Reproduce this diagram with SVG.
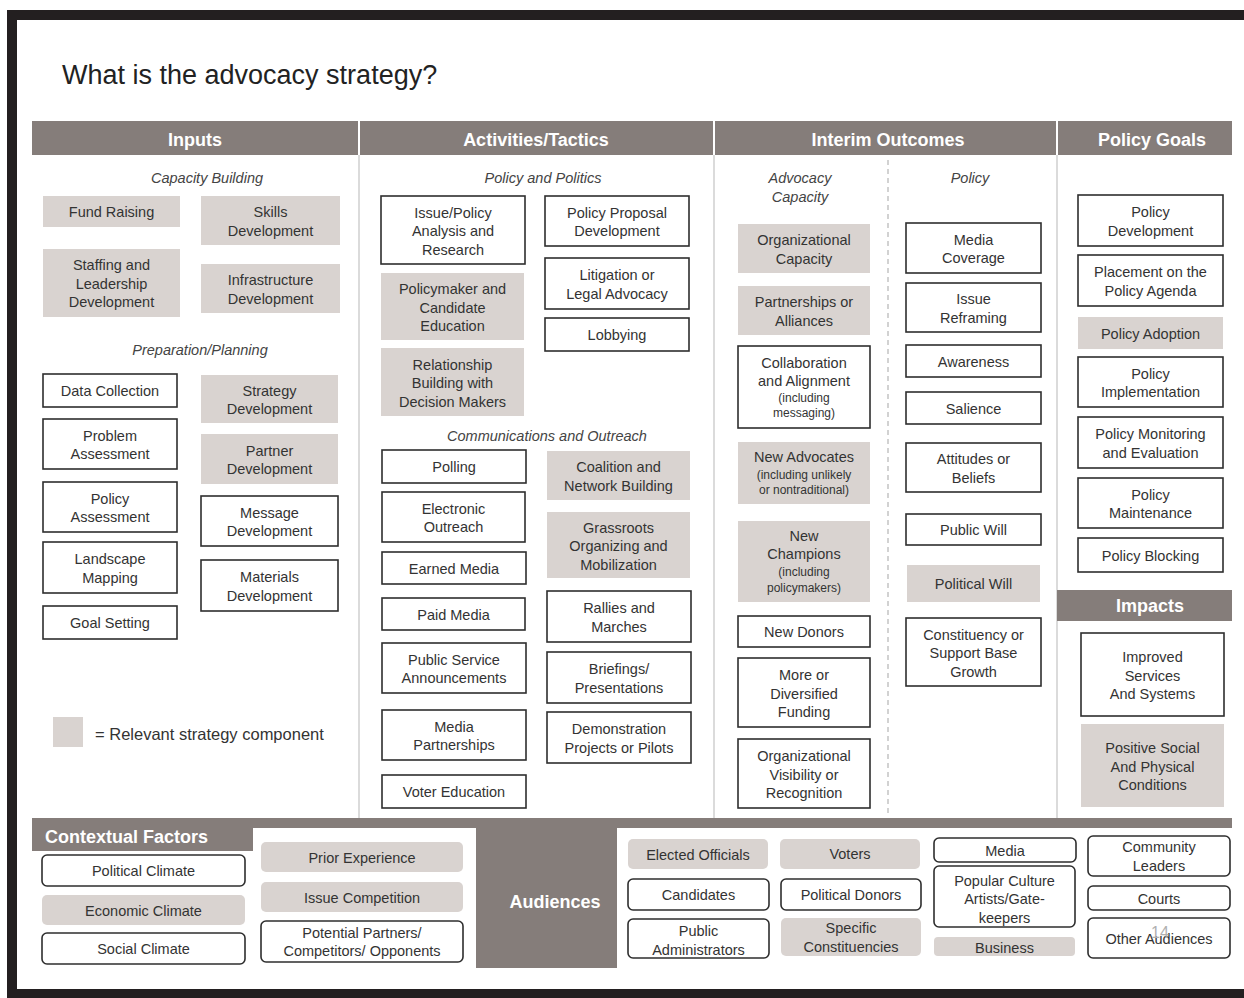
<svg xmlns="http://www.w3.org/2000/svg" width="1244" height="998" viewBox="0 0 1244 998">
  <style>
    .frame { fill: #231f20; }
    .hdr { fill: #857d7a; }
    .hdr-t { font-family: "Liberation Sans", Arial, sans-serif; font-weight: bold; font-size: 18px; fill: #ffffff; text-anchor: middle; }
    .sub { font-family: "Liberation Sans", Arial, sans-serif; font-style: italic; font-size: 14.5px; fill: #444444; text-anchor: middle; }
    .box { fill: #ffffff; stroke: #2e2e2e; stroke-width: 1.6; }
    .rel { fill: #d9d3d0; stroke: none; }
    .t { font-family: "Liberation Sans", Arial, sans-serif; font-size: 14.5px; fill: #333333; text-anchor: middle; }
    .s { font-size: 12px; }
    .div { stroke: #cfcfcf; stroke-width: 1.5; fill: none; }
    .dash { stroke: #d2d2d2; stroke-width: 2; stroke-dasharray: 5 4; fill: none; }
  </style>

  <rect x="0" y="0" width="1244" height="998" fill="#ffffff"/>

  <!-- page frame -->
  <g id="frame">
    <rect class="frame" x="7" y="10" width="1237" height="10"/>
    <rect class="frame" x="7" y="10" width="10" height="988"/>
    <rect class="frame" x="7" y="989" width="1237" height="9"/>
  </g>

  <text x="62" y="84" font-family="Liberation Sans, Arial, sans-serif" font-size="27" fill="#222222">What is the advocacy strategy?</text>

  <!-- column headers -->
  <g id="headers">
    <rect class="hdr" x="32" y="121" width="326" height="34"/>
    <rect class="hdr" x="360" y="121" width="353" height="34"/>
    <rect class="hdr" x="715" y="121" width="341" height="34"/>
    <rect class="hdr" x="1058" y="121" width="174" height="34"/>
    <text class="hdr-t" x="195" y="146">Inputs</text>
    <text class="hdr-t" x="536" y="146">Activities/Tactics</text>
    <text class="hdr-t" x="888" y="146">Interim Outcomes</text>
    <text class="hdr-t" x="1152" y="146">Policy Goals</text>
  </g>

  <!-- column dividers -->
  <g id="dividers">
    <line class="div" x1="359" y1="155" x2="359" y2="818"/>
    <line class="div" x1="714" y1="155" x2="714" y2="818"/>
    <line class="div" x1="1057" y1="155" x2="1057" y2="818"/>
    <line class="dash" x1="888" y1="160" x2="888" y2="815"/>
  </g>

  <!-- section labels -->
  <g id="section-labels">
    <text class="sub" x="207" y="183">Capacity Building</text>
    <text class="sub" x="200" y="355">Preparation/Planning</text>
    <text class="sub" x="543" y="183">Policy and Politics</text>
    <text class="sub" x="547" y="441">Communications and Outreach</text>
    <text class="sub" x="800" y="183">Advocacy</text>
    <text class="sub" x="800" y="202">Capacity</text>
    <text class="sub" x="970" y="183">Policy</text>
  </g>

  <!-- Inputs -->
  <g id="fund-raising"><rect class="rel" x="43" y="196" width="137" height="31"/><text class="t" x="111.5" y="217">Fund Raising</text></g>
  <g id="skills-development"><rect class="rel" x="201" y="196" width="139" height="49"/><text class="t"><tspan x="270.5" y="217">Skills</tspan><tspan x="270.5" y="235.5">Development</tspan></text></g>
  <g id="staffing-leadership"><rect class="rel" x="43" y="249" width="137" height="68"/><text class="t"><tspan x="111.5" y="270">Staffing and</tspan><tspan x="111.5" y="288.5">Leadership</tspan><tspan x="111.5" y="307">Development</tspan></text></g>
  <g id="infrastructure-development"><rect class="rel" x="201" y="264" width="139" height="49"/><text class="t"><tspan x="270.5" y="285">Infrastructure</tspan><tspan x="270.5" y="303.5">Development</tspan></text></g>
  <g id="data-collection"><rect class="box" x="43" y="374" width="134" height="33"/><text class="t" x="110" y="396">Data Collection</text></g>
  <g id="strategy-development"><rect class="rel" x="201" y="375" width="137" height="48"/><text class="t"><tspan x="269.5" y="395.5">Strategy</tspan><tspan x="269.5" y="414">Development</tspan></text></g>
  <g id="problem-assessment"><rect class="box" x="43" y="419" width="134" height="50"/><text class="t"><tspan x="110" y="440.5">Problem</tspan><tspan x="110" y="459">Assessment</tspan></text></g>
  <g id="partner-development"><rect class="rel" x="201" y="434" width="137" height="50"/><text class="t"><tspan x="269.5" y="455.5">Partner</tspan><tspan x="269.5" y="474">Development</tspan></text></g>
  <g id="policy-assessment"><rect class="box" x="43" y="482" width="134" height="50"/><text class="t"><tspan x="110" y="503.5">Policy</tspan><tspan x="110" y="522">Assessment</tspan></text></g>
  <g id="message-development"><rect class="box" x="201" y="496" width="137" height="50"/><text class="t"><tspan x="269.5" y="517.5">Message</tspan><tspan x="269.5" y="536">Development</tspan></text></g>
  <g id="landscape-mapping"><rect class="box" x="43" y="542" width="134" height="51"/><text class="t"><tspan x="110" y="564">Landscape</tspan><tspan x="110" y="582.5">Mapping</tspan></text></g>
  <g id="materials-development"><rect class="box" x="201" y="560" width="137" height="51"/><text class="t"><tspan x="269.5" y="582">Materials</tspan><tspan x="269.5" y="600.5">Development</tspan></text></g>
  <g id="goal-setting"><rect class="box" x="43" y="606" width="134" height="33"/><text class="t" x="110" y="628">Goal Setting</text></g>

  <g id="legend">
    <rect class="rel" x="53" y="717" width="30" height="30"/>
    <text x="95" y="740" font-family="Liberation Sans, Arial, sans-serif" font-size="16.5" fill="#333333">= Relevant strategy component</text>
  </g>

  <!-- Activities / Tactics -->
  <g id="issue-policy-analysis"><rect class="box" x="381" y="196" width="144" height="68"/><text class="t"><tspan x="453" y="217.5">Issue/Policy</tspan><tspan x="453" y="236">Analysis and</tspan><tspan x="453" y="254.5">Research</tspan></text></g>
  <g id="policy-proposal"><rect class="box" x="545" y="196" width="144" height="50"/><text class="t"><tspan x="617" y="217.5">Policy Proposal</tspan><tspan x="617" y="236">Development</tspan></text></g>
  <g id="policymaker-education"><rect class="rel" x="381" y="273" width="143" height="67"/><text class="t"><tspan x="452.5" y="294">Policymaker and</tspan><tspan x="452.5" y="312.5">Candidate</tspan><tspan x="452.5" y="331">Education</tspan></text></g>
  <g id="litigation"><rect class="box" x="545" y="258" width="144" height="51"/><text class="t"><tspan x="617" y="280">Litigation or</tspan><tspan x="617" y="298.5">Legal Advocacy</tspan></text></g>
  <g id="lobbying"><rect class="box" x="545" y="318" width="144" height="33"/><text class="t" x="617" y="340">Lobbying</text></g>
  <g id="relationship-building"><rect class="rel" x="381" y="348" width="143" height="68"/><text class="t"><tspan x="452.5" y="369.5">Relationship</tspan><tspan x="452.5" y="388">Building with</tspan><tspan x="452.5" y="406.5">Decision Makers</tspan></text></g>
  <g id="polling"><rect class="box" x="382" y="450" width="144" height="33"/><text class="t" x="454" y="472">Polling</text></g>
  <g id="coalition-building"><rect class="rel" x="547" y="451" width="143" height="49"/><text class="t"><tspan x="618.5" y="472">Coalition and</tspan><tspan x="618.5" y="490.5">Network Building</tspan></text></g>
  <g id="electronic-outreach"><rect class="box" x="382" y="492" width="143" height="50"/><text class="t"><tspan x="453.5" y="513.5">Electronic</tspan><tspan x="453.5" y="532">Outreach</tspan></text></g>
  <g id="grassroots-organizing"><rect class="rel" x="547" y="512" width="143" height="66"/><text class="t"><tspan x="618.5" y="532.5">Grassroots</tspan><tspan x="618.5" y="551">Organizing and</tspan><tspan x="618.5" y="569.5">Mobilization</tspan></text></g>
  <g id="earned-media"><rect class="box" x="382" y="552" width="144" height="32"/><text class="t" x="454" y="573.5">Earned Media</text></g>
  <g id="rallies-marches"><rect class="box" x="547" y="591" width="144" height="51"/><text class="t"><tspan x="619" y="613">Rallies and</tspan><tspan x="619" y="631.5">Marches</tspan></text></g>
  <g id="paid-media"><rect class="box" x="382" y="598" width="143" height="32"/><text class="t" x="453.5" y="619.5">Paid Media</text></g>
  <g id="psa"><rect class="box" x="382" y="643" width="144" height="50"/><text class="t"><tspan x="454" y="664.5">Public Service</tspan><tspan x="454" y="683">Announcements</tspan></text></g>
  <g id="briefings"><rect class="box" x="547" y="652" width="144" height="51"/><text class="t"><tspan x="619" y="674">Briefings/</tspan><tspan x="619" y="692.5">Presentations</tspan></text></g>
  <g id="media-partnerships"><rect class="box" x="382" y="710" width="144" height="50"/><text class="t"><tspan x="454" y="731.5">Media</tspan><tspan x="454" y="750">Partnerships</tspan></text></g>
  <g id="demonstration-projects"><rect class="box" x="547" y="712" width="144" height="51"/><text class="t"><tspan x="619" y="734">Demonstration</tspan><tspan x="619" y="752.5">Projects or Pilots</tspan></text></g>
  <g id="voter-education"><rect class="box" x="382" y="775" width="144" height="33"/><text class="t" x="454" y="797">Voter Education</text></g>

  <!-- Interim Outcomes: advocacy capacity -->
  <g id="organizational-capacity"><rect class="rel" x="738" y="224" width="132" height="49"/><text class="t"><tspan x="804" y="245">Organizational</tspan><tspan x="804" y="263.5">Capacity</tspan></text></g>
  <g id="partnerships-alliances"><rect class="rel" x="738" y="286" width="132" height="49"/><text class="t"><tspan x="804" y="307">Partnerships or</tspan><tspan x="804" y="325.5">Alliances</tspan></text></g>
  <g id="collaboration-alignment"><rect class="box" x="738" y="346" width="132" height="82"/><text class="t"><tspan x="804" y="368">Collaboration</tspan><tspan x="804" y="386">and Alignment</tspan><tspan class="s" x="804" y="402">(including</tspan><tspan class="s" x="804" y="417">messaging)</tspan></text></g>
  <g id="new-advocates"><rect class="rel" x="738" y="442" width="132" height="62"/><text class="t"><tspan x="804" y="462">New Advocates</tspan><tspan class="s" x="804" y="479">(including unlikely</tspan><tspan class="s" x="804" y="494">or nontraditional)</tspan></text></g>
  <g id="new-champions"><rect class="rel" x="738" y="521" width="132" height="81"/><text class="t"><tspan x="804" y="541">New</tspan><tspan x="804" y="559">Champions</tspan><tspan class="s" x="804" y="576">(including</tspan><tspan class="s" x="804" y="592">policymakers)</tspan></text></g>
  <g id="new-donors"><rect class="box" x="738" y="616" width="132" height="31"/><text class="t" x="804" y="637">New Donors</text></g>
  <g id="diversified-funding"><rect class="box" x="738" y="658" width="132" height="69"/><text class="t"><tspan x="804" y="680">More or</tspan><tspan x="804" y="698.5">Diversified</tspan><tspan x="804" y="717">Funding</tspan></text></g>
  <g id="organizational-visibility"><rect class="box" x="738" y="739" width="132" height="69"/><text class="t"><tspan x="804" y="761">Organizational</tspan><tspan x="804" y="779.5">Visibility or</tspan><tspan x="804" y="798">Recognition</tspan></text></g>

  <!-- Interim Outcomes: policy -->
  <g id="media-coverage"><rect class="box" x="906" y="223" width="135" height="50"/><text class="t"><tspan x="973.5" y="244.5">Media</tspan><tspan x="973.5" y="263">Coverage</tspan></text></g>
  <g id="issue-reframing"><rect class="box" x="906" y="283" width="135" height="49"/><text class="t"><tspan x="973.5" y="304">Issue</tspan><tspan x="973.5" y="322.5">Reframing</tspan></text></g>
  <g id="awareness"><rect class="box" x="906" y="345" width="135" height="32"/><text class="t" x="973.5" y="366.5">Awareness</text></g>
  <g id="salience"><rect class="box" x="906" y="392" width="135" height="32"/><text class="t" x="973.5" y="413.5">Salience</text></g>
  <g id="attitudes-beliefs"><rect class="box" x="906" y="443" width="135" height="49"/><text class="t"><tspan x="973.5" y="464">Attitudes or</tspan><tspan x="973.5" y="482.5">Beliefs</tspan></text></g>
  <g id="public-will"><rect class="box" x="906" y="514" width="135" height="31"/><text class="t" x="973.5" y="535">Public Will</text></g>
  <g id="political-will"><rect class="rel" x="907" y="565" width="133" height="37"/><text class="t" x="973.5" y="589">Political Will</text></g>
  <g id="constituency-growth"><rect class="box" x="906" y="618" width="135" height="68"/><text class="t"><tspan x="973.5" y="639.5">Constituency or</tspan><tspan x="973.5" y="658">Support Base</tspan><tspan x="973.5" y="676.5">Growth</tspan></text></g>

  <!-- Policy Goals -->
  <g id="policy-development"><rect class="box" x="1078" y="195" width="145" height="51"/><text class="t"><tspan x="1150.5" y="217">Policy</tspan><tspan x="1150.5" y="235.5">Development</tspan></text></g>
  <g id="policy-agenda"><rect class="box" x="1078" y="255" width="145" height="51"/><text class="t"><tspan x="1150.5" y="277">Placement on the</tspan><tspan x="1150.5" y="295.5">Policy Agenda</tspan></text></g>
  <g id="policy-adoption"><rect class="rel" x="1078" y="317" width="145" height="32"/><text class="t" x="1150.5" y="338.5">Policy Adoption</text></g>
  <g id="policy-implementation"><rect class="box" x="1078" y="357" width="145" height="50"/><text class="t"><tspan x="1150.5" y="378.5">Policy</tspan><tspan x="1150.5" y="397">Implementation</tspan></text></g>
  <g id="policy-monitoring"><rect class="box" x="1078" y="417" width="145" height="51"/><text class="t"><tspan x="1150.5" y="439">Policy Monitoring</tspan><tspan x="1150.5" y="457.5">and Evaluation</tspan></text></g>
  <g id="policy-maintenance"><rect class="box" x="1078" y="478" width="145" height="50"/><text class="t"><tspan x="1150.5" y="499.5">Policy</tspan><tspan x="1150.5" y="518">Maintenance</tspan></text></g>
  <g id="policy-blocking"><rect class="box" x="1078" y="538" width="145" height="34"/><text class="t" x="1150.5" y="560.5">Policy Blocking</text></g>

  <!-- Impacts -->
  <g id="impacts-header">
    <rect class="hdr" x="1057" y="590" width="175" height="31"/>
    <text class="hdr-t" x="1150" y="612">Impacts</text>
  </g>
  <g id="improved-services"><rect class="box" x="1081" y="633" width="143" height="83"/><text class="t"><tspan x="1152.5" y="662">Improved</tspan><tspan x="1152.5" y="680.5">Services</tspan><tspan x="1152.5" y="699">And Systems</tspan></text></g>
  <g id="positive-conditions"><rect class="rel" x="1081" y="724" width="143" height="83"/><text class="t"><tspan x="1152.5" y="753">Positive Social</tspan><tspan x="1152.5" y="771.5">And Physical</tspan><tspan x="1152.5" y="790">Conditions</tspan></text></g>

  <!-- Contextual factors and audiences band -->
  <g id="bottom-band">
    <rect class="hdr" x="32" y="818" width="1200" height="10"/>
    <rect class="hdr" x="32" y="818" width="221" height="33"/>
    <rect class="hdr" x="476" y="818" width="141" height="150"/>
    <text x="45" y="843" font-family="Liberation Sans, Arial, sans-serif" font-weight="bold" font-size="18" fill="#ffffff">Contextual Factors</text>
    <text class="hdr-t" x="555" y="908">Audiences</text>
  </g>

  <g id="political-climate"><rect class="box" x="42" y="855" width="203" height="31" rx="5"/><text class="t" x="143.5" y="876">Political Climate</text></g>
  <g id="economic-climate"><rect class="rel" x="42" y="895" width="203" height="30" rx="5"/><text class="t" x="143.5" y="915.5">Economic Climate</text></g>
  <g id="social-climate"><rect class="box" x="42" y="933" width="203" height="31" rx="5"/><text class="t" x="143.5" y="954">Social Climate</text></g>
  <g id="prior-experience"><rect class="rel" x="261" y="842" width="202" height="30" rx="5"/><text class="t" x="362" y="862.5">Prior Experience</text></g>
  <g id="issue-competition"><rect class="rel" x="261" y="882" width="202" height="30" rx="5"/><text class="t" x="362" y="902.5">Issue Competition</text></g>
  <g id="potential-partners"><rect class="box" x="261" y="921" width="202" height="41" rx="5"/><text class="t"><tspan x="362" y="938">Potential Partners/</tspan><tspan x="362" y="956">Competitors/ Opponents</tspan></text></g>

  <g id="elected-officials"><rect class="rel" x="628" y="839" width="140" height="30" rx="5"/><text class="t" x="698" y="859.5">Elected Officials</text></g>
  <g id="voters"><rect class="rel" x="780" y="839" width="140" height="30" rx="5"/><text class="t" x="850" y="859" font-size="13">Voters</text></g>
  <g id="media"><rect class="box" x="934" y="838" width="142" height="24" rx="5"/><text class="t" x="1005" y="855.5">Media</text></g>
  <g id="community-leaders"><rect class="box" x="1088" y="836" width="142" height="40" rx="5"/><text class="t"><tspan x="1159" y="852">Community</tspan><tspan x="1159" y="871">Leaders</tspan></text></g>
  <g id="candidates"><rect class="box" x="628" y="879" width="141" height="31" rx="5"/><text class="t" x="698.5" y="900">Candidates</text></g>
  <g id="political-donors"><rect class="box" x="781" y="879" width="140" height="31" rx="5"/><text class="t" x="851" y="900">Political Donors</text></g>
  <g id="popular-culture"><rect class="box" x="934" y="866" width="141" height="61" rx="5"/><text class="t"><tspan x="1004.5" y="886">Popular Culture</tspan><tspan x="1004.5" y="904">Artists/Gate-</tspan><tspan x="1004.5" y="923">keepers</tspan></text></g>
  <g id="courts"><rect class="box" x="1088" y="886" width="142" height="24" rx="5"/><text class="t" x="1159" y="903.5">Courts</text></g>
  <g id="public-administrators"><rect class="box" x="628" y="919" width="141" height="39" rx="5"/><text class="t"><tspan x="698.5" y="936">Public</tspan><tspan x="698.5" y="955">Administrators</tspan></text></g>
  <g id="specific-constituencies"><rect class="rel" x="781" y="918" width="140" height="38" rx="5"/><text class="t"><tspan x="851" y="933">Specific</tspan><tspan x="851" y="952">Constituencies</tspan></text></g>
  <g id="business"><rect class="rel" x="934" y="937" width="141" height="19" rx="4"/><text class="t" x="1004.5" y="953">Business</text></g>
  <g id="other-audiences"><rect class="box" x="1088" y="918" width="142" height="40" rx="5"/><text class="t" x="1159" y="943.5">Other Audiences</text></g>

  <text x="1160" y="938" font-family="Liberation Sans, Arial, sans-serif" font-size="16" fill="#b0b0b0" text-anchor="middle">14</text>
</svg>
